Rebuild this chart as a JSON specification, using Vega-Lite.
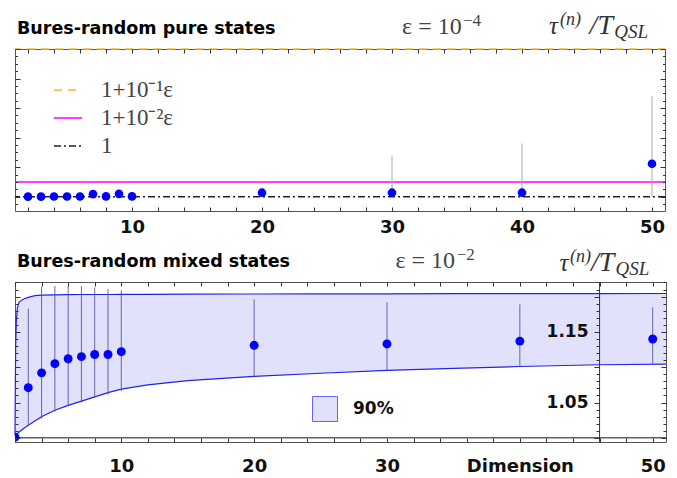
{
  "$schema": "https://vega.github.io/schema/vega-lite/v6.json",
  "background": "white",
  "padding": {"left": 12, "top": 10, "right": 5, "bottom": 0},
  "spacing": 8,
  "datasets": {
    "pureLines": [
      {"label": "1+10⁻¹ε", "ratio": 1.00001},
      {"label": "1+10⁻²ε", "ratio": 1.000001},
      {"label": "1", "ratio": 1.0}
    ],
    "pure": [
      {"dim": 2, "ratio": 1.0, "lo": 0.99999995, "hi": 1.00000005},
      {"dim": 3, "ratio": 1.0, "lo": 0.99999995, "hi": 1.00000005},
      {"dim": 4, "ratio": 1.00000001, "lo": 0.99999996, "hi": 1.00000006},
      {"dim": 5, "ratio": 1.00000001, "lo": 0.99999996, "hi": 1.00000006},
      {"dim": 6, "ratio": 1.00000001, "lo": 0.99999996, "hi": 1.00000006},
      {"dim": 7, "ratio": 1.00000017, "lo": 1.0000001, "hi": 1.00000024},
      {"dim": 8, "ratio": 1.00000002, "lo": 0.99999997, "hi": 1.00000007},
      {"dim": 9, "ratio": 1.00000019, "lo": 1.0000001, "hi": 1.00000026},
      {"dim": 10, "ratio": 1.00000002, "lo": 0.99999997, "hi": 1.00000007},
      {"dim": 20, "ratio": 1.00000027, "lo": 1.0000001, "hi": 1.0000005},
      {"dim": 30, "ratio": 1.00000027, "lo": 1.0, "hi": 1.0000028},
      {"dim": 40, "ratio": 1.00000027, "lo": 1.0, "hi": 1.0000036},
      {"dim": 50, "ratio": 1.00000223, "lo": 1.0, "hi": 1.0000068}
    ],
    "band": [
      {"dim": 2, "lo": 1.003, "hi": 1.004, "band": "90%"},
      {"dim": 2.02, "lo": 1.0035, "hi": 1.06, "band": "90%"},
      {"dim": 2.05, "lo": 1.004, "hi": 1.13, "band": "90%"},
      {"dim": 2.1, "lo": 1.005, "hi": 1.165, "band": "90%"},
      {"dim": 2.17, "lo": 1.006, "hi": 1.183, "band": "90%"},
      {"dim": 2.3, "lo": 1.008, "hi": 1.192, "band": "90%"},
      {"dim": 2.5, "lo": 1.011, "hi": 1.195, "band": "90%"},
      {"dim": 2.7, "lo": 1.014, "hi": 1.197, "band": "90%"},
      {"dim": 3, "lo": 1.018, "hi": 1.199, "band": "90%"},
      {"dim": 3.5, "lo": 1.024, "hi": 1.2015, "band": "90%"},
      {"dim": 4, "lo": 1.03, "hi": 1.2022, "band": "90%"},
      {"dim": 5, "lo": 1.039, "hi": 1.2026, "band": "90%"},
      {"dim": 6, "lo": 1.046, "hi": 1.2028, "band": "90%"},
      {"dim": 7, "lo": 1.052, "hi": 1.203, "band": "90%"},
      {"dim": 8, "lo": 1.058, "hi": 1.203, "band": "90%"},
      {"dim": 9, "lo": 1.064, "hi": 1.203, "band": "90%"},
      {"dim": 10, "lo": 1.069, "hi": 1.2031, "band": "90%"},
      {"dim": 12, "lo": 1.075, "hi": 1.2033, "band": "90%"},
      {"dim": 15, "lo": 1.081, "hi": 1.2035, "band": "90%"},
      {"dim": 20, "lo": 1.087, "hi": 1.2037, "band": "90%"},
      {"dim": 25, "lo": 1.0915, "hi": 1.2039, "band": "90%"},
      {"dim": 30, "lo": 1.0955, "hi": 1.204, "band": "90%"},
      {"dim": 35, "lo": 1.0985, "hi": 1.2041, "band": "90%"},
      {"dim": 40, "lo": 1.101, "hi": 1.2042, "band": "90%"},
      {"dim": 46, "lo": 1.1035, "hi": 1.2043, "band": "90%"},
      {"dim": 51, "lo": 1.1045, "hi": 1.2044, "band": "90%"}
    ],
    "mixed": [
      {"dim": 2, "ratio": 1.001, "lo": 1.001, "hi": 1.001},
      {"dim": 3, "ratio": 1.071, "lo": 1.016, "hi": 1.183},
      {"dim": 4, "ratio": 1.092, "lo": 1.027, "hi": 1.214},
      {"dim": 5, "ratio": 1.105, "lo": 1.037, "hi": 1.215},
      {"dim": 6, "ratio": 1.112, "lo": 1.046, "hi": 1.215},
      {"dim": 7, "ratio": 1.115, "lo": 1.05, "hi": 1.215},
      {"dim": 8, "ratio": 1.118, "lo": 1.057, "hi": 1.213},
      {"dim": 9, "ratio": 1.118, "lo": 1.061, "hi": 1.211},
      {"dim": 10, "ratio": 1.122, "lo": 1.066, "hi": 1.209},
      {"dim": 20, "ratio": 1.131, "lo": 1.087, "hi": 1.196},
      {"dim": 30, "ratio": 1.133, "lo": 1.096, "hi": 1.192},
      {"dim": 40, "ratio": 1.137, "lo": 1.101, "hi": 1.189},
      {"dim": 50, "ratio": 1.14, "lo": 1.105, "hi": 1.185}
    ]
  },
  "vconcat": [
    {
      "width": 650,
      "height": 162,
      "resolve": {"axis": {"x": "independent", "y": "independent"}},
      "layer": [
        {
          "data": {"name": "pureLines"},
          "mark": {"type": "rule", "strokeWidth": 1.5},
          "encoding": {
            "y": {"field": "ratio", "type": "quantitative", "scale": {"domain": [0.99999903, 1.00001], "nice": false, "zero": false},
                  "axis": {"orient": "left", "zindex": 1, "values": [1, 1.000002, 1.000004, 1.000006, 1.000008, 1.00001], "tickSize": -5, "labels": false, "title": null}},
            "color": {"field": "label", "type": "nominal",
                      "scale": {"domain": ["1+10⁻¹ε", "1+10⁻²ε", "1"], "range": ["#ffb52e", "#ff00ff", "#222222"]},
                      "legend": {"orient": "none", "legendX": 38, "legendY": 26, "title": null, "symbolType": "stroke", "symbolSize": 784, "symbolStrokeWidth": 1.5, "labelFont": "Liberation Serif", "labelFontSize": 23, "labelColor": "#444444", "labelOffset": 18, "rowPadding": 1, "labelLimit": 300}},
            "strokeDash": {"field": "label", "type": "nominal",
                      "scale": {"domain": ["1+10⁻¹ε", "1+10⁻²ε", "1"], "range": [[8, 6], [1, 0], [7, 3, 2, 3]]},
                      "legend": {"orient": "none", "legendX": 38, "legendY": 26, "title": null, "symbolType": "stroke", "symbolSize": 784, "symbolStrokeWidth": 1.5, "labelFont": "Liberation Serif", "labelFontSize": 23, "labelColor": "#444444", "labelOffset": 18, "rowPadding": 1, "labelLimit": 300}}
          }
        },
        {
          "data": {"name": "pure"},
          "mark": {"type": "rule", "color": "#aaaaaa", "strokeWidth": 1},
          "encoding": {
            "x": {"field": "dim", "type": "quantitative", "scale": {"domain": [1, 51], "nice": false, "zero": false},
                  "axis": {"orient": "bottom", "zindex": 1, "values": [2,4,6,8,10,12,14,16,18,20,22,24,26,28,30,32,34,36,38,40,42,44,46,48,50], "tickSize": -4, "labelExpr": "datum.value % 10 === 0 ? datum.label : ''", "labelPadding": 11, "title": null}},
            "y": {"field": "lo", "type": "quantitative", "scale": {"domain": [0.99999903, 1.00001], "nice": false, "zero": false},
                  "axis": {"orient": "left", "zindex": 1, "values": [0.9999995, 1, 1.0000005, 1.000001, 1.0000015, 1.000002, 1.0000025, 1.000003, 1.0000035, 1.000004, 1.0000045, 1.000005, 1.0000055, 1.000006, 1.0000065, 1.000007, 1.0000075, 1.000008, 1.0000085, 1.000009, 1.0000095, 1.00001], "tickSize": -2.5, "labels": false, "title": null}},
            "y2": {"field": "hi"}
          }
        },
        {
          "data": {"name": "pure"},
          "mark": {"type": "point", "filled": true, "color": "#0000ff", "size": 75, "opacity": 1},
          "encoding": {
            "x": {"field": "dim", "type": "quantitative", "scale": {"domain": [1, 51], "nice": false, "zero": false},
                  "axis": {"orient": "top", "zindex": 1, "values": [2,4,6,8,10,12,14,16,18,20,22,24,26,28,30,32,34,36,38,40,42,44,46,48,50], "tickSize": -4, "labels": false, "title": null}},
            "y": {"field": "ratio", "type": "quantitative", "scale": {"domain": [0.99999903, 1.00001], "nice": false, "zero": false},
                  "axis": {"orient": "right", "zindex": 1, "values": [1, 1.000002, 1.000004, 1.000006, 1.000008, 1.00001], "tickSize": -5, "labels": false, "title": null}}
          }
        },
        {
          "data": {"values": [{}]},
          "mark": {"type": "text", "text": "Bures-random pure states", "font": "DejaVu Sans", "fontWeight": "bold", "fontSize": 17.5, "color": "#000000", "align": "left", "baseline": "alphabetic"},
          "encoding": {
            "x": {"datum": 1.15, "type": "quantitative", "scale": {"domain": [1, 51], "nice": false, "zero": false}, "axis": null},
            "y": {"datum": 1.000011, "type": "quantitative", "scale": {"domain": [0.99999903, 1.00001], "nice": false, "zero": false},
                  "axis": {"orient": "right", "zindex": 1, "values": [0.9999995, 1, 1.0000005, 1.000001, 1.0000015, 1.000002, 1.0000025, 1.000003, 1.0000035, 1.000004, 1.0000045, 1.000005, 1.0000055, 1.000006, 1.0000065, 1.000007, 1.0000075, 1.000008, 1.0000085, 1.000009, 1.0000095, 1.00001], "tickSize": -2.5, "labels": false, "title": null}}
          }
        },
        {
          "data": {"values": [{}]},
          "mark": {"type": "text", "text": "ε = 10", "font": "Liberation Serif", "fontSize": 24, "color": "#444444", "align": "right", "baseline": "alphabetic"},
          "encoding": {
            "x": {"datum": 35.36, "type": "quantitative", "scale": {"domain": [1, 51], "nice": false, "zero": false}, "axis": null},
            "y": {"datum": 1.000011, "type": "quantitative", "scale": {"domain": [0.99999903, 1.00001], "nice": false, "zero": false}, "axis": null}
          }
        },
        {
          "data": {"values": [{}]},
          "mark": {"type": "text", "text": "−4", "font": "Liberation Serif", "fontSize": 17, "color": "#444444", "align": "left", "baseline": "alphabetic", "dy": -8},
          "encoding": {
            "x": {"datum": 35.46, "type": "quantitative", "scale": {"domain": [1, 51], "nice": false, "zero": false}, "axis": null},
            "y": {"datum": 1.000011, "type": "quantitative", "scale": {"domain": [0.99999903, 1.00001], "nice": false, "zero": false}, "axis": null}
          }
        },
        {
          "data": {"values": [{}]},
          "mark": {"type": "text", "text": "τ", "font": "Liberation Serif", "fontStyle": "italic", "fontSize": 25, "color": "#333333", "align": "right", "baseline": "alphabetic"},
          "encoding": {
            "x": {"datum": 42.77, "type": "quantitative", "scale": {"domain": [1, 51], "nice": false, "zero": false}, "axis": null},
            "y": {"datum": 1.000011, "type": "quantitative", "scale": {"domain": [0.99999903, 1.00001], "nice": false, "zero": false}, "axis": null}
          }
        },
        {
          "data": {"values": [{}]},
          "mark": {"type": "text", "text": "(n)", "font": "Liberation Serif", "fontStyle": "italic", "fontSize": 18, "color": "#333333", "align": "left", "baseline": "alphabetic", "dy": -9},
          "encoding": {
            "x": {"datum": 42.92, "type": "quantitative", "scale": {"domain": [1, 51], "nice": false, "zero": false}, "axis": null},
            "y": {"datum": 1.000011, "type": "quantitative", "scale": {"domain": [0.99999903, 1.00001], "nice": false, "zero": false}, "axis": null}
          }
        },
        {
          "data": {"values": [{}]},
          "mark": {"type": "text", "text": "/T", "font": "Liberation Serif", "fontStyle": "italic", "fontSize": 28, "color": "#333333", "align": "left", "baseline": "alphabetic"},
          "encoding": {
            "x": {"datum": 45.2, "type": "quantitative", "scale": {"domain": [1, 51], "nice": false, "zero": false}, "axis": null},
            "y": {"datum": 1.000011, "type": "quantitative", "scale": {"domain": [0.99999903, 1.00001], "nice": false, "zero": false}, "axis": null}
          }
        },
        {
          "data": {"values": [{}]},
          "mark": {"type": "text", "text": "QSL", "font": "Liberation Serif", "fontStyle": "italic", "fontSize": 19, "color": "#333333", "align": "left", "baseline": "alphabetic", "dy": 4},
          "encoding": {
            "x": {"datum": 47.1, "type": "quantitative", "scale": {"domain": [1, 51], "nice": false, "zero": false}, "axis": null},
            "y": {"datum": 1.000011, "type": "quantitative", "scale": {"domain": [0.99999903, 1.00001], "nice": false, "zero": false}, "axis": null}
          }
        }
      ]
    },
    {
      "width": 651,
      "height": 160,
      "resolve": {"axis": {"x": "independent", "y": "independent"}},
      "layer": [
        {
          "data": {"name": "band"},
          "mark": {"type": "area", "opacity": 1, "fillOpacity": 1},
          "encoding": {
            "x": {"field": "dim", "type": "quantitative", "scale": {"domain": [2, 51], "nice": false, "zero": false},
                  "axis": {"orient": "bottom", "zindex": 1, "values": [2,4,6,8,10,12,14,16,18,20,22,24,26,28,30,32,34,36,38,40,42,44,46,48,50], "tickSize": -4, "labelExpr": "datum.value % 10 === 0 ? (datum.value === 40 ? 'Dimension' : datum.label) : ''", "labelPadding": 19, "title": null}},
            "y": {"field": "lo", "type": "quantitative", "scale": {"domain": [0.9941, 1.2207], "nice": false, "zero": false},
                  "axis": {"orient": "left", "zindex": 1, "values": [1, 1.05, 1.1, 1.15, 1.2], "tickSize": -5, "labels": false, "title": null}},
            "y2": {"field": "hi"},
            "fill": {"field": "band", "type": "nominal", "scale": {"domain": ["90%"], "range": ["#e1e1fb"]},
                     "legend": {"orient": "none", "legendX": 297, "legendY": 347, "title": null, "symbolType": "square", "symbolSize": 625, "symbolStrokeColor": "#6464ff", "symbolStrokeWidth": 1, "symbolOpacity": 1, "labelFont": "DejaVu Sans", "labelFontWeight": "bold", "labelFontSize": 17, "labelColor": "#111111", "labelOffset": 15}}
          }
        },
        {
          "data": {"name": "band"},
          "mark": {"type": "line", "color": "#2222ee", "strokeWidth": 1.2},
          "encoding": {
            "x": {"field": "dim", "type": "quantitative", "scale": {"domain": [2, 51], "nice": false, "zero": false},
                  "axis": {"orient": "top", "zindex": 1, "values": [2,4,6,8,10,12,14,16,18,20,22,24,26,28,30,32,34,36,38,40,42,44,46,48,50], "tickSize": -4, "labels": false, "title": null}},
            "y": {"field": "hi", "type": "quantitative", "scale": {"domain": [0.9941, 1.2207], "nice": false, "zero": false},
                  "axis": {"orient": "left", "zindex": 1, "values": [1, 1.01, 1.02, 1.03, 1.04, 1.05, 1.06, 1.07, 1.08, 1.09, 1.1, 1.11, 1.12, 1.13, 1.14, 1.15, 1.16, 1.17, 1.18, 1.19, 1.2, 1.21, 1.22], "tickSize": -3, "labels": false, "title": null}}
          }
        },
        {
          "data": {"name": "band"},
          "mark": {"type": "line", "color": "#2222ee", "strokeWidth": 1.2},
          "encoding": {
            "x": {"field": "dim", "type": "quantitative", "scale": {"domain": [2, 51], "nice": false, "zero": false}, "axis": null},
            "y": {"field": "lo", "type": "quantitative", "scale": {"domain": [0.9941, 1.2207], "nice": false, "zero": false},
                  "axis": {"orient": "right", "zindex": 1, "values": [1, 1.05, 1.1, 1.15, 1.2], "tickSize": -5, "labels": false, "title": null}}
          }
        },
        {
          "data": {"name": "mixed"},
          "mark": {"type": "rule", "color": "#50509a", "strokeWidth": 1, "opacity": 0.85},
          "encoding": {
            "x": {"field": "dim", "type": "quantitative", "scale": {"domain": [2, 51], "nice": false, "zero": false}, "axis": null},
            "y": {"field": "lo", "type": "quantitative", "scale": {"domain": [0.9941, 1.2207], "nice": false, "zero": false},
                  "axis": {"orient": "right", "zindex": 1, "values": [1, 1.01, 1.02, 1.03, 1.04, 1.05, 1.06, 1.07, 1.08, 1.09, 1.1, 1.11, 1.12, 1.13, 1.14, 1.15, 1.16, 1.17, 1.18, 1.19, 1.2, 1.21, 1.22], "tickSize": -3, "labels": false, "title": null}},
            "y2": {"field": "hi"}
          }
        },
        {
          "data": {"name": "mixed"},
          "mark": {"type": "point", "filled": true, "color": "#0000ff", "size": 80, "opacity": 1, "clip": true},
          "encoding": {
            "x": {"field": "dim", "type": "quantitative", "scale": {"domain": [2, 51], "nice": false, "zero": false}, "axis": null},
            "y": {"field": "ratio", "type": "quantitative", "scale": {"domain": [0.9941, 1.2207], "nice": false, "zero": false},
                  "axis": {"orient": "left", "zindex": 1, "offset": -584, "values": [1, 1.05, 1.1, 1.15, 1.2], "tickSize": 5, "labelPadding": 6, "labelFontSize": 17, "labelExpr": "(datum.value > 1.04 && datum.value < 1.06) || (datum.value > 1.14 && datum.value < 1.16) ? datum.label : ''", "title": null}}
          }
        },
        {
          "data": {"values": [{}]},
          "mark": {"type": "rule", "color": "#111111", "strokeWidth": 1},
          "encoding": {
            "y": {"datum": 1.0, "type": "quantitative", "scale": {"domain": [0.9941, 1.2207], "nice": false, "zero": false},
                  "axis": {"orient": "left", "zindex": 1, "offset": -584, "values": [1, 1.01, 1.02, 1.03, 1.04, 1.05, 1.06, 1.07, 1.08, 1.09, 1.1, 1.11, 1.12, 1.13, 1.14, 1.15, 1.16, 1.17, 1.18, 1.19, 1.2, 1.21, 1.22], "tickSize": 3, "labels": false, "title": null}}
          }
        },
        {
          "data": {"values": [{}]},
          "mark": {"type": "rule", "color": "#333333", "strokeWidth": 1},
          "encoding": {
            "x": {"datum": 46, "type": "quantitative", "scale": {"domain": [2, 51], "nice": false, "zero": false}, "axis": null}
          }
        },
        {
          "data": {"values": [{}]},
          "mark": {"type": "text", "text": "Bures-random mixed states", "font": "DejaVu Sans", "fontWeight": "bold", "fontSize": 17.5, "color": "#000000", "align": "left", "baseline": "alphabetic"},
          "encoding": {
            "x": {"datum": 2.15, "type": "quantitative", "scale": {"domain": [2, 51], "nice": false, "zero": false}, "axis": null},
            "y": {"datum": 1.2419, "type": "quantitative", "scale": {"domain": [0.9941, 1.2207], "nice": false, "zero": false}, "axis": null}
          }
        },
        {
          "data": {"values": [{}]},
          "mark": {"type": "text", "text": "ε = 10", "font": "Liberation Serif", "fontSize": 24, "color": "#444444", "align": "right", "baseline": "alphabetic"},
          "encoding": {
            "x": {"datum": 35.12, "type": "quantitative", "scale": {"domain": [2, 51], "nice": false, "zero": false}, "axis": null},
            "y": {"datum": 1.2405, "type": "quantitative", "scale": {"domain": [0.9941, 1.2207], "nice": false, "zero": false}, "axis": null}
          }
        },
        {
          "data": {"values": [{}]},
          "mark": {"type": "text", "text": "−2", "font": "Liberation Serif", "fontSize": 17, "color": "#444444", "align": "left", "baseline": "alphabetic", "dy": -8},
          "encoding": {
            "x": {"datum": 35.25, "type": "quantitative", "scale": {"domain": [2, 51], "nice": false, "zero": false}, "axis": null},
            "y": {"datum": 1.2405, "type": "quantitative", "scale": {"domain": [0.9941, 1.2207], "nice": false, "zero": false}, "axis": null}
          }
        },
        {
          "data": {"values": [{}]},
          "mark": {"type": "text", "text": "τ", "font": "Liberation Serif", "fontStyle": "italic", "fontSize": 25, "color": "#333333", "align": "right", "baseline": "alphabetic"},
          "encoding": {
            "x": {"datum": 43.65, "type": "quantitative", "scale": {"domain": [2, 51], "nice": false, "zero": false}, "axis": null},
            "y": {"datum": 1.2363, "type": "quantitative", "scale": {"domain": [0.9941, 1.2207], "nice": false, "zero": false}, "axis": null}
          }
        },
        {
          "data": {"values": [{}]},
          "mark": {"type": "text", "text": "(n)", "font": "Liberation Serif", "fontStyle": "italic", "fontSize": 18, "color": "#333333", "align": "left", "baseline": "alphabetic", "dy": -9},
          "encoding": {
            "x": {"datum": 43.77, "type": "quantitative", "scale": {"domain": [2, 51], "nice": false, "zero": false}, "axis": null},
            "y": {"datum": 1.2363, "type": "quantitative", "scale": {"domain": [0.9941, 1.2207], "nice": false, "zero": false}, "axis": null}
          }
        },
        {
          "data": {"values": [{}]},
          "mark": {"type": "text", "text": "/T", "font": "Liberation Serif", "fontStyle": "italic", "fontSize": 28, "color": "#333333", "align": "left", "baseline": "alphabetic"},
          "encoding": {
            "x": {"datum": 45.35, "type": "quantitative", "scale": {"domain": [2, 51], "nice": false, "zero": false}, "axis": null},
            "y": {"datum": 1.2363, "type": "quantitative", "scale": {"domain": [0.9941, 1.2207], "nice": false, "zero": false}, "axis": null}
          }
        },
        {
          "data": {"values": [{}]},
          "mark": {"type": "text", "text": "QSL", "font": "Liberation Serif", "fontStyle": "italic", "fontSize": 19, "color": "#333333", "align": "left", "baseline": "alphabetic", "dy": 4},
          "encoding": {
            "x": {"datum": 47.2, "type": "quantitative", "scale": {"domain": [2, 51], "nice": false, "zero": false}, "axis": null},
            "y": {"datum": 1.2363, "type": "quantitative", "scale": {"domain": [0.9941, 1.2207], "nice": false, "zero": false}, "axis": null}
          }
        }
      ]
    }
  ],
  "config": {
    "view": {"stroke": "#555555", "strokeWidth": 1},
    "axis": {"grid": false, "domain": false, "tickColor": "#333333", "tickWidth": 1, "labelFont": "DejaVu Sans", "labelFontWeight": "bold", "labelFontSize": 18, "labelColor": "#111111", "labelOverlap": false}
  }
}
